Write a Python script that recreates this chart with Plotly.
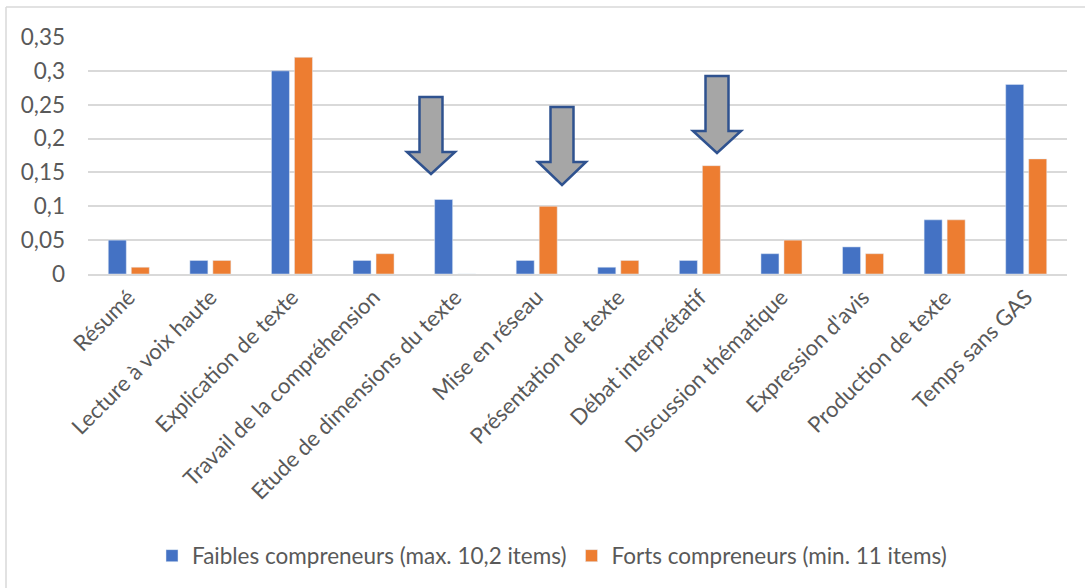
import plotly.graph_objects as go

categories = ["Résumé", "Lecture à voix haute", "Explication de texte",
              "Travail de la compréhension", "Etude de dimensions du texte",
              "Mise en réseau", "Présentation de texte", "Débat interprétatif",
              "Discussion thématique", "Expression d'avis", "Production de texte",
              "Temps sans GAS"]
faibles = [0.05, 0.02, 0.30, 0.02, 0.11, 0.02, 0.01, 0.02, 0.03, 0.04, 0.08, 0.28]
forts = [0.01, 0.02, 0.32, 0.03, 0.0, 0.10, 0.02, 0.16, 0.05, 0.03, 0.08, 0.17]
name_faibles = "Faibles compreneurs (max. 10,2 items)"
name_forts = "Forts compreneurs (min. 11 items)"
y_ticks = [0, 0.05, 0.1, 0.15, 0.2, 0.25, 0.3, 0.35]
y_ticktext = ["0", "0,05", "0,1", "0,15", "0,2", "0,25", "0,3", "0,35"]

W, H = 1085, 588
L, R, T, B = 88, 1067, 37, 274

FONT = "Lato"
GREY = "#595959"

fig = go.Figure()
fig.add_trace(go.Bar(x=categories, y=faibles, name=name_faibles,
                     marker=dict(color="#4472C4")))
fig.add_trace(go.Bar(x=categories, y=forts, name=name_forts,
                     marker=dict(color="#ED7D31")))


def px2paper(x, y):
    return (x - L) / (R - L), (B - y) / (B - T)


def arrow_path(cx, top, head_base, tip, shaft_half=11.5, head_half=24):
    pts = [(cx - shaft_half, top), (cx + shaft_half, top), (cx + shaft_half, head_base),
           (cx + head_half, head_base), (cx, tip), (cx - head_half, head_base),
           (cx - shaft_half, head_base)]
    conv = [px2paper(x, y) for x, y in pts]
    return "M " + " L ".join(f"{a:.5f},{b:.5f}" for a, b in conv) + " Z"


shapes = []
for cx, top, hb, tip in [(431, 97, 152, 174), (562, 107, 162, 185), (717, 76, 131, 153)]:
    shapes.append(dict(type="path", xref="paper", yref="paper",
                       path=arrow_path(cx, top, hb, tip),
                       fillcolor="#A6A6A6", line=dict(color="#2F528F", width=2.5)))

# outer chart border (top and left)
x0, y0 = px2paper(6, 7)
x1, _ = px2paper(1085, 7)
_, y1 = px2paper(6, 588)
shapes.append(dict(type="line", xref="paper", yref="paper", x0=x0, y0=y0, x1=x1, y1=y0,
                   line=dict(color="#D9D9D9", width=1.5)))
shapes.append(dict(type="line", xref="paper", yref="paper", x0=x0, y0=y0, x1=x0, y1=y1,
                   line=dict(color="#D9D9D9", width=1.5)))

leg_x, leg_y = px2paper(552, 556)

fig.update_layout(
    width=W, height=H,
    margin=dict(l=L, r=W - R, t=T, b=H - B, autoexpand=False),
    paper_bgcolor="white", plot_bgcolor="white",
    barmode="group", bargap=0.436, bargroupgap=0.217,
    font=dict(family=FONT, color=GREY),
    showlegend=True,
    legend=dict(orientation="h", x=leg_x, xanchor="center", y=leg_y, yanchor="middle",
                font=dict(size=22.5, color=GREY), itemwidth=30,
                traceorder="normal"),
    shapes=shapes,
    xaxis=dict(tickangle=-45, tickfont=dict(size=22, color=GREY), showgrid=False,
               showline=True, linecolor="#D9D9D9", linewidth=1.5, ticks=""),
    yaxis=dict(range=[0, 0.35], tickvals=y_ticks, ticktext=y_ticktext,
               tickfont=dict(size=22.5, color=GREY), showgrid=True, gridcolor="#D9D9D9",
               gridwidth=1.5, zeroline=False, showline=False, ticklabelstandoff=22),
)

fig.write_html("out.html")
